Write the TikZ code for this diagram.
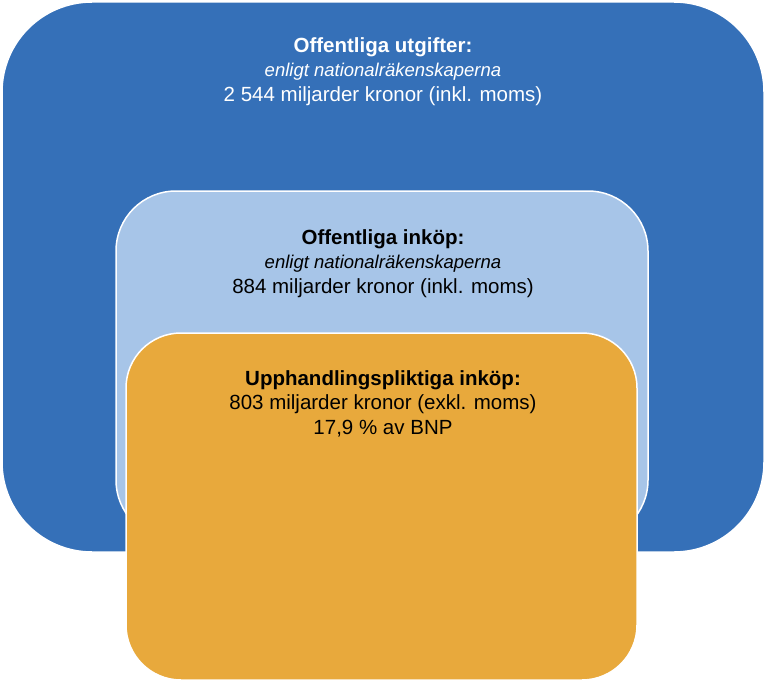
\documentclass[tikz,border=0pt]{standalone}
\usepackage{fontspec}
\setmainfont{Liberation Sans}
\definecolor{cblue}{HTML}{3570B8}
\definecolor{clight}{HTML}{A7C5E8}
\definecolor{corange}{HTML}{E8A93C}
\newcommand{\smallit}[1]{{\fontsize{18.5}{24.5}\selectfont\itshape #1}}
\begin{document}
\begin{tikzpicture}[x=1pt,y=-1pt,
  box/.style={draw=white,line width=1.5pt},
  lbl/.style={align=center,font=\fontsize{20.5}{24.5}\selectfont,inner sep=0pt,anchor=north}]
\useasboundingbox (0,0) rectangle (765,682);
\path[box,fill=cblue,rounded corners=90] (2,2) rectangle (764,552);
\path[box,fill=clight,rounded corners=60] (116,191) rectangle (648,540);
\path[box,fill=corange,rounded corners=55] (126,333) rectangle (637,680);
\node[lbl,text=white] (t1) at (383,37) {\textbf{Offentliga utgifter:}\\\smallit{enligt nationalräkenskaperna}\\2 544 miljarder kronor (inkl. moms)};
\node[lbl] (t2) at (383,229) {\textbf{Offentliga inköp:}\\\smallit{enligt nationalräkenskaperna}\\884 miljarder kronor (inkl. moms)};
\node[lbl] (t3) at (383,370) {\textbf{Upphandlingspliktiga inköp:}\\803 miljarder kronor (exkl. moms)\\17,9 \% av BNP};
\end{tikzpicture}
\end{document}
